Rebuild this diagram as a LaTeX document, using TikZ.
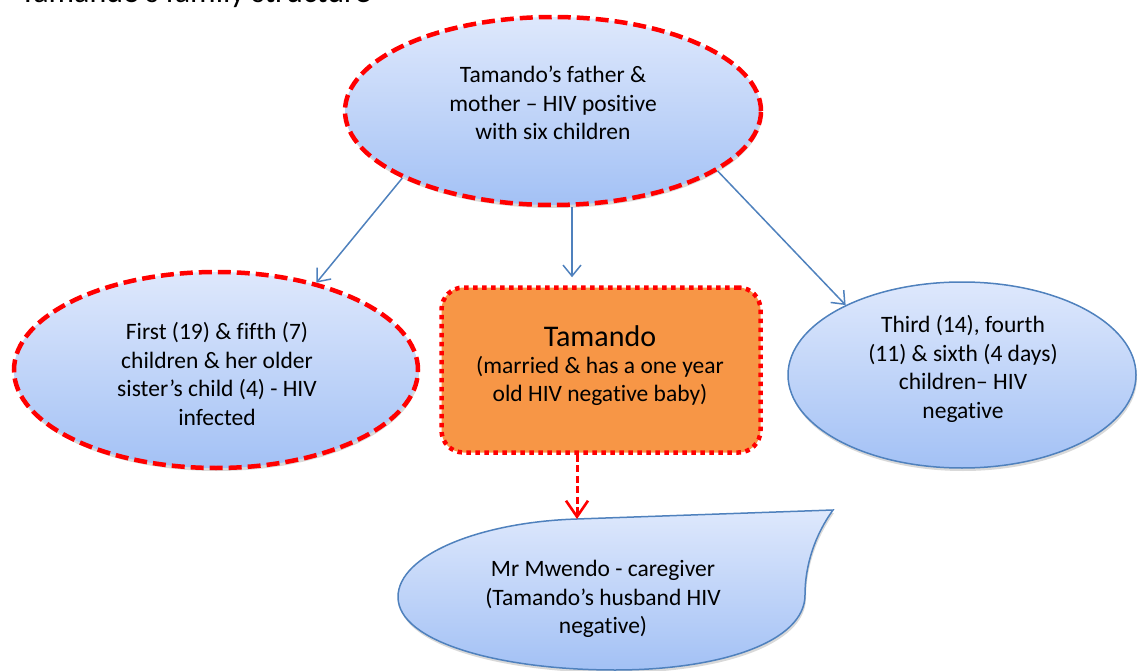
\documentclass[tikz,border=0pt]{standalone}
\usepackage{fontspec}
\setmainfont{Carlito}[Ligatures={NoCommon,NoRare,NoContextual}]
\usetikzlibrary{shapes.geometric,arrows.meta,shadows}
\definecolor{bluetop}{RGB}{222,232,252}
\definecolor{bluebot}{RGB}{163,193,245}
\definecolor{blueline}{RGB}{79,129,189}
\definecolor{orangefill}{RGB}{247,150,70}
\begin{document}
\begin{tikzpicture}[x=1pt,y=-1pt,
  txt/.style={align=center, inner sep=0pt, font=\fontsize{23.5pt}{28.5pt}\selectfont},
  softshadow/.style={drop shadow={shadow xshift=1pt, shadow yshift=-3pt, opacity=0.25, fill=black!60}},
  redell/.style={ellipse, inner sep=0pt, draw=red, line width=4.5pt, dash pattern=on 13pt off 6pt,
     top color=bluetop, bottom color=bluebot, softshadow},
  blueell/.style={ellipse, inner sep=0pt, draw=blueline, line width=1.5pt,
     top color=bluetop, bottom color=bluebot, softshadow},
  tambox/.style={rectangle, rounded corners=22pt, inner sep=0pt, fill=orangefill, draw=red,
     line width=4.5pt, dash pattern=on 4.5pt off 4.5pt},
  bluearrow/.style={draw=blueline, line width=1.5pt, -{Straight Barb[length=11pt,width=18pt,line width=1.5pt]}},
  redarrow/.style={draw=red, line width=3pt, dash pattern=on 7pt off 3.5pt, -{Straight Barb[length=16pt,width=22pt,line width=2.6pt]}}
]
\useasboundingbox (0,0) rectangle (1138,671);
\clip (0,0) rectangle (1138,671);

% title (cut off at top)
\node[anchor=base west, inner sep=0pt, font=\fontsize{32pt}{36pt}\selectfont] (title) at (20,3) {Tamando’s family structure};

% shapes
\node[redell, minimum width=416pt, minimum height=188pt] (parents) at (553,111) {};
\node[txt] (parentstxt) at (553,103) {Tamando’s father \&\\mother – HIV positive\\with six children};

\node[redell, minimum width=404pt, minimum height=196pt] (infected) at (216,370) {};
\node[txt] (infectedtxt) at (217,374) {First (19) \& fifth (7)\\children \& her older\\sister’s child (4) - HIV\\infected};

\node[blueell, minimum width=348pt, minimum height=186pt] (negative) at (962,375) {};
\node[txt] (negativetxt) at (963,369) {Third (14), fourth\\(11) \& sixth (4 days)\\children– HIV\\negative};

\node[tambox, minimum width=319pt, minimum height=165pt] (tam) at (601,370) {};
\node[txt] (tamtxt) at (600,366) {{\fontsize{30pt}{34pt}\selectfont Tamando}\\[-2pt](married \& has a one year\\old HIV negative baby)};

% speech bubble
\draw[draw=blueline, line width=1.5pt, top color=bluetop, bottom color=bluebot, softshadow]
  (833,510) .. controls (815,535) and (805,565) .. (805,595)
  .. controls (805,642) and (720,670) .. (615,670)
  .. controls (500,670) and (398,642) .. (398,597)
  .. controls (398,555) and (480,522) .. (577,519) -- cycle;
\coordinate (bubtop) at (577,519);
\node[txt] (mwendo) at (603,599) {Mr Mwendo - caregiver\\(Tamando’s husband HIV\\negative)};

% connectors
\draw[bluearrow] (parents.204) -- (infected.41);
\draw[bluearrow, shorten >=8pt] (parents.south -| 572,0) -- (tam.north -| 572,0);
\draw[bluearrow] (parents.340) -- (negative.149);
\draw[redarrow] (tam.south -| bubtop) -- (bubtop);
\end{tikzpicture}
\end{document}
